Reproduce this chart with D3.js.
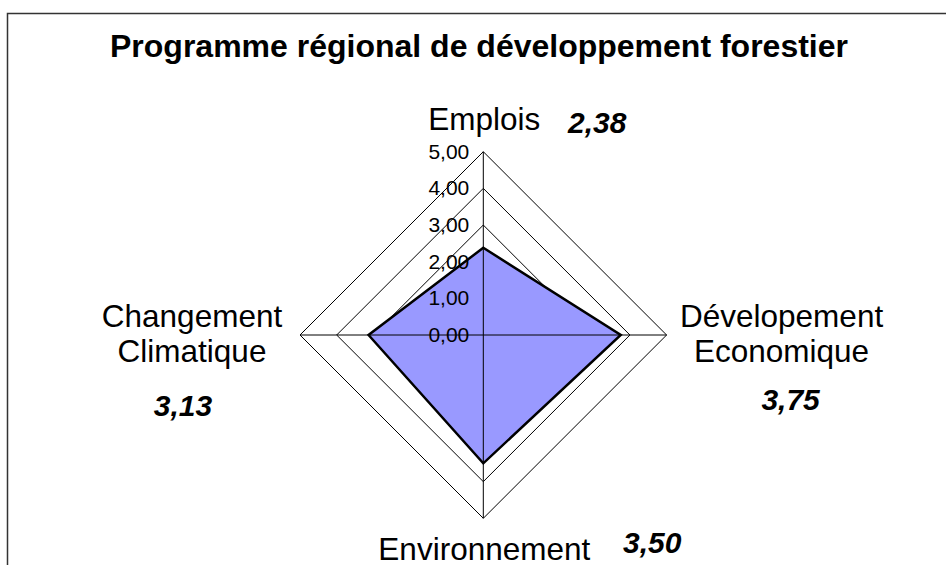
<!DOCTYPE html>
<html>
<head>
<meta charset="utf-8">
<script src="https://cdn.jsdelivr.net/npm/d3@7"></script>
<style>
    body { margin: 0; background: #fff; }
    svg { display: block; font-family: "Liberation Sans", Arial, sans-serif; }
</style>
</head>
<body>
<div id="chart"></div>
<script>
'use strict';

let width = 946;
let height = 565;

// chart data
const title = "Programme régional de développement forestier";
const categories = ["Emplois", "Dévelopement\nEconomique", "Environnement", "Changement\nClimatique"];
const values = [2.38, 3.75, 3.50, 3.13];
const tickValues = [0, 1, 2, 3, 4, 5];

// layout (not data): offsets of labels from the tip of each axis
const labelOffsets = [[1, -22], [115, -8], [1, 42], [-108, -8]];
const valueOffsets = [[114, -19], [124, 75], [169, 35], [-117, 81]];

const cx = 483.3, cy = 335;
const fr = d3.formatLocale({ decimal: ",", thousands: " ", grouping: [3], currency: ["", " €"] });
const fmt = fr.format(".2f");

const svg = d3.select("#chart")
    .append("svg")
    .attr("width", width)
    .attr("height", height);

// chart frame (goes past the right / bottom edge)
svg.append("rect")
    .attr("x", 7.5).attr("y", 13.5)
    .attr("width", 1000).attr("height", 600)
    .attr("fill", "none")
    .attr("stroke", "#333")
    .attr("stroke-width", 1.5);

svg.append("text")
    .attr("x", 479).attr("y", 57)
    .attr("text-anchor", "middle")
    .attr("font-weight", "bold")
    .attr("font-size", 32)
    .text(title);

const r = d3.scaleLinear().domain([0, 5]).range([0, 183.3]);
const angle = d3.scaleLinear().domain([0, categories.length]).range([0, 2 * Math.PI]);

const pt = (i, v) => [cx + r(v) * Math.sin(angle(i)), cy - r(v) * Math.cos(angle(i))];
const line = d3.line().curve(d3.curveLinearClosed);

// rings
svg.selectAll(".ring")
    .data(tickValues.filter(t => t > 0))
    .join("path")
    .attr("class", "ring")
    .attr("d", t => line(categories.map((c, i) => pt(i, t))))
    .attr("fill", "none")
    .attr("stroke", "#000")
    .attr("stroke-width", 1);

// series area
svg.append("path")
    .attr("d", line(values.map((v, i) => pt(i, v))))
    .attr("fill", "#9999ff")
    .attr("stroke", "none");

// spokes
svg.selectAll(".spoke")
    .data(categories)
    .join("line")
    .attr("class", "spoke")
    .attr("x1", cx).attr("y1", cy)
    .attr("x2", (d, i) => pt(i, 5)[0])
    .attr("y2", (d, i) => pt(i, 5)[1])
    .attr("stroke", "#000")
    .attr("stroke-width", 1);

// series outline
svg.append("path")
    .attr("d", line(values.map((v, i) => pt(i, v))))
    .attr("fill", "none")
    .attr("stroke", "#000")
    .attr("stroke-width", 2.5)
    .attr("stroke-linejoin", "miter");

// tick labels
svg.selectAll(".tick")
    .data(tickValues)
    .join("text")
    .attr("class", "tick")
    .attr("x", cx - 14)
    .attr("y", t => cy - r(t) + 7)
    .attr("text-anchor", "end")
    .attr("font-size", 21)
    .text(t => fmt(t));

// category labels
categories.forEach((c, i) => {
    const [x, y] = pt(i, 5);
    const t = svg.append("text")
        .attr("text-anchor", "middle")
        .attr("font-size", 31.5);
    c.split("\n").forEach((s, k) => {
        t.append("tspan")
            .attr("x", x + labelOffsets[i][0])
            .attr("y", y + labelOffsets[i][1] + k * 35)
            .text(s);
    });
});

// value labels
svg.selectAll(".val")
    .data(values)
    .join("text")
    .attr("class", "val")
    .attr("x", (v, i) => pt(i, 5)[0] + valueOffsets[i][0])
    .attr("y", (v, i) => pt(i, 5)[1] + valueOffsets[i][1])
    .attr("text-anchor", "middle")
    .attr("font-size", 30)
    .attr("font-weight", "bold")
    .attr("font-style", "italic")
    .text(v => fmt(v));
</script>
</body>
</html>
